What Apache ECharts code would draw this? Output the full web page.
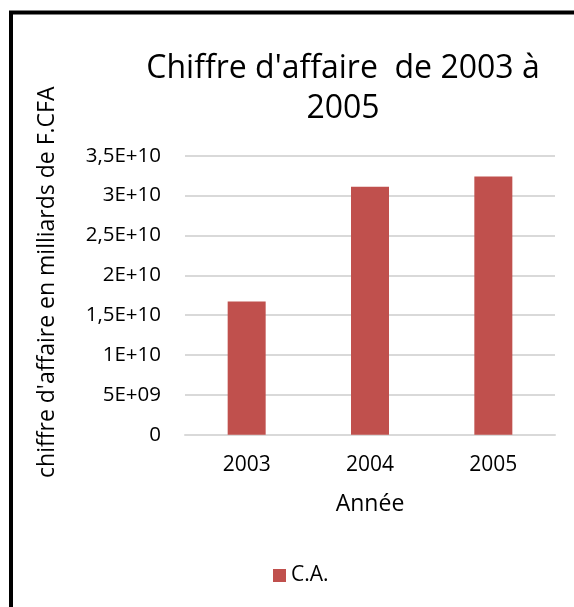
<!DOCTYPE html>
<html>
<head>
<meta charset="utf-8">
<script src="https://cdn.jsdelivr.net/npm/echarts@6/dist/echarts.min.js"></script>
<style>
  html, body { margin: 0; padding: 0; background: #fff; }
  #chart { width: 574px; height: 607px; }
</style>
</head>
<body>
<div id="chart"></div>
<script>
// Chiffre d'affaire annuel (F.CFA)
const years = ['2003', '2004', '2005'];
const revenue = [1.67e10, 3.11e10, 3.24e10];
const seriesName = 'C.A.';
const titleText = "Chiffre d'affaire  de 2003 à\n2005";
const yAxisName = "chiffre d'affaire en milliards de F.CFA";
const xAxisName = 'Année';

const FONT = 'Open Sans';
const BAR = '#C0504D';

// Scientific notation like the spreadsheet: 5E+09, 1,5E+10
function sci(v) {
  if (v === 0) return '0';
  const e = Math.floor(Math.log10(v) + 1e-9);
  const m = +(v / Math.pow(10, e)).toFixed(2);
  const ms = String(m).replace('.', ',');
  return ms + 'E+' + String(e).padStart(2, '0');
}

const chart = echarts.init(document.getElementById('chart'), null, { renderer: 'canvas' });
chart.setOption({
  animation: false,
  backgroundColor: '#fff',
  textStyle: { fontFamily: FONT, color: '#000' },
  graphic: [{
    type: 'rect',
    shape: { x: 11, y: 12.5, width: 620, height: 620 },
    style: { fill: 'none', stroke: '#000', lineWidth: 4 },
    silent: true
  }],
  title: {
    text: titleText,
    left: 343,
    top: 49,
    textAlign: 'center',
    padding: 0,
    textStyle: { fontFamily: FONT, fontSize: 32, fontWeight: 'normal', color: '#000', lineHeight: 40 }
  },
  legend: {
    data: [seriesName],
    left: 273,
    top: 565,
    padding: 0,
    icon: 'rect',
    itemWidth: 13,
    itemHeight: 13,
    textStyle: { fontFamily: FONT, fontSize: 21, color: '#000' }
  },
  grid: { left: 185, right: 19, top: 155.7, bottom: 172.3, containLabel: false },
  xAxis: {
    type: 'category',
    data: years,
    name: xAxisName,
    nameLocation: 'middle',
    nameGap: 58,
    nameTextStyle: { fontFamily: FONT, fontSize: 23, color: '#000' },
    axisLine: { show: true, lineStyle: { color: '#D9D9D9', width: 2 } },
    axisTick: { show: false },
    axisLabel: { margin: 20, fontFamily: FONT, fontSize: 21, color: '#000' }
  },
  yAxis: {
    type: 'value',
    min: 0,
    max: 3.5e10,
    interval: 5e9,
    name: yAxisName,
    nameLocation: 'middle',
    nameGap: 126,
    nameRotate: 90,
    nameTextStyle: { fontFamily: FONT, fontSize: 23, color: '#000', padding: [0, 0, 0, 26] },
    axisLine: { show: false },
    axisTick: { show: false },
    splitLine: { lineStyle: { color: '#D9D9D9', width: 2 } },
    axisLabel: { margin: 24, fontFamily: FONT, fontSize: 20.5, color: '#000', formatter: sci }
  },
  series: [{
    name: seriesName,
    type: 'bar',
    data: revenue,
    barWidth: 38,
    itemStyle: { color: BAR }
  }]
});
</script>
</body>
</html>
